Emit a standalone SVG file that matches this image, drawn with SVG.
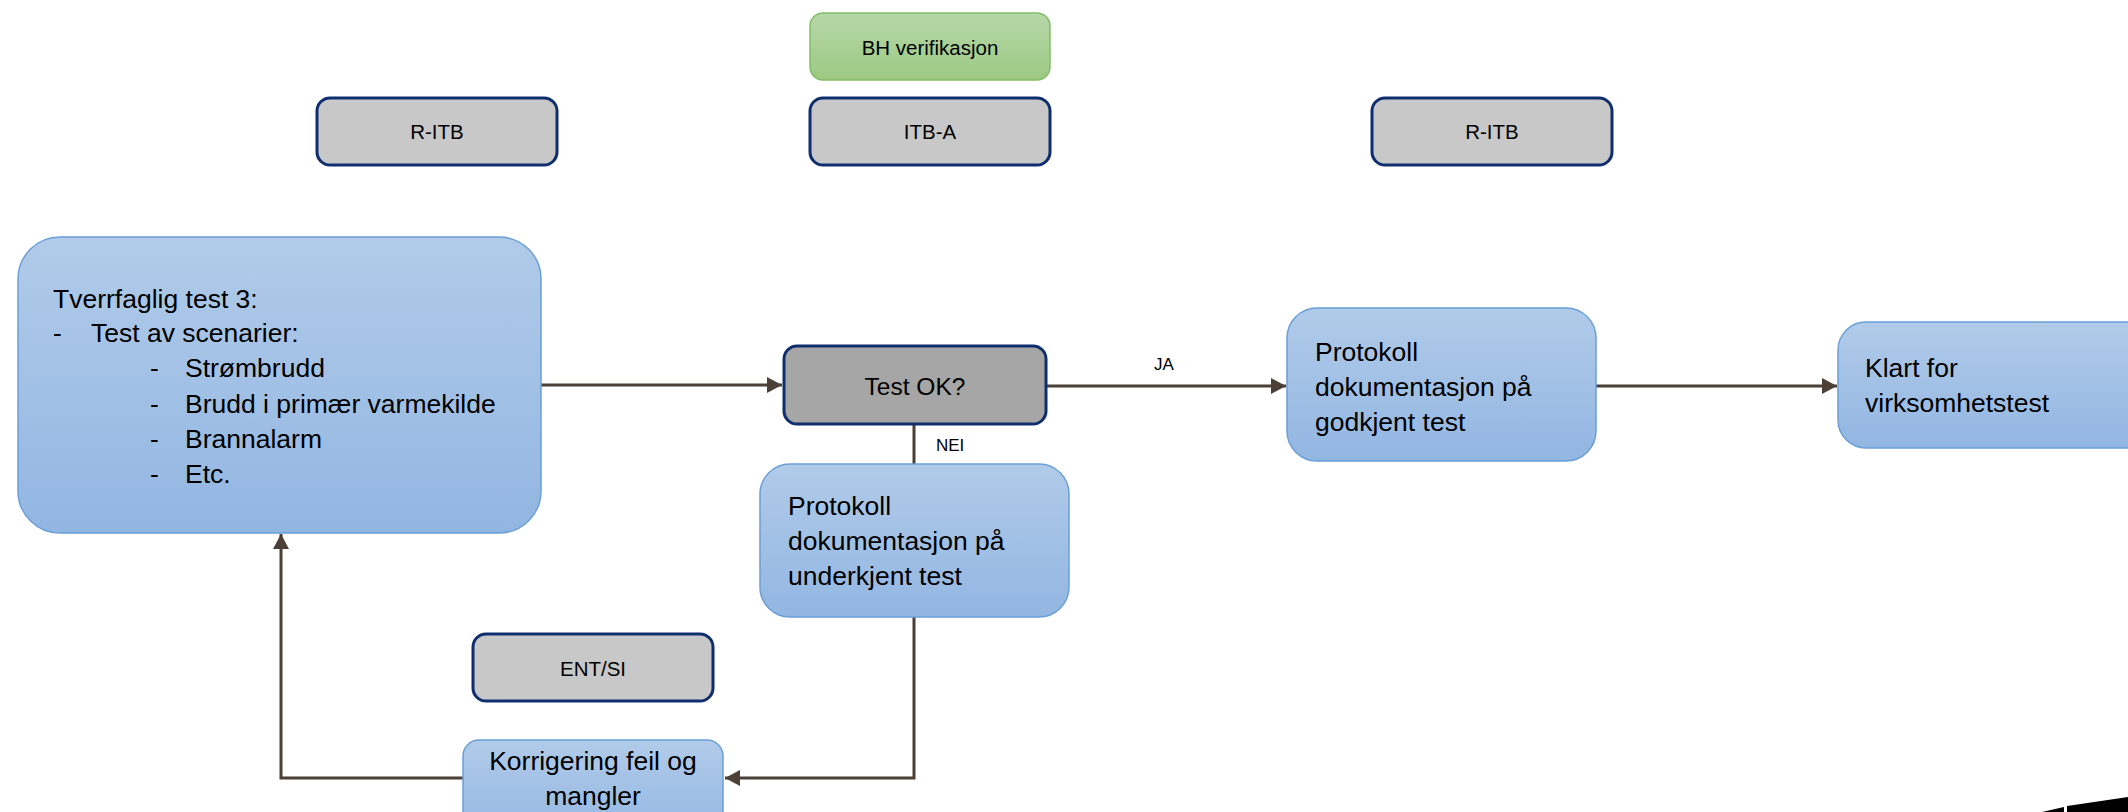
<svg xmlns="http://www.w3.org/2000/svg" width="2128" height="812" viewBox="0 0 2128 812">
<style>
text{font-family:"Liberation Sans",Arial,sans-serif;fill:#000}
.blue{fill:url(#gBlue);stroke:#6a9fd8;stroke-width:1.5}
.green{fill:url(#gGreen);stroke:#84bd66;stroke-width:1.5}
.gray{fill:#c8c8c8;stroke:#0f2e6e;stroke-width:3}
.dark{fill:#a6a6a6;stroke:#0f2e6e;stroke-width:3}
.t20{font-size:20.5px}
.t26{font-size:26.5px}
.t24{font-size:24.5px}
.t17{font-size:17px}
.conn{fill:none;stroke:#4b3f36;stroke-width:3}
</style>
<defs>
<linearGradient id="gBlue" x1="0" y1="0" x2="0" y2="1">
<stop offset="0" stop-color="#b1cbe9"/>
<stop offset="1" stop-color="#92b6e2"/>
</linearGradient>
<linearGradient id="gGreen" x1="0" y1="0" x2="0" y2="1">
<stop offset="0" stop-color="#b6d7a9"/>
<stop offset="1" stop-color="#9cc982"/>
</linearGradient>
<marker id="arr" markerUnits="userSpaceOnUse" markerWidth="18" markerHeight="18" refX="15" refY="8" orient="auto">
<path d="M0,0 L15,8 L0,16 z" fill="#4b3f36"/>
</marker>
</defs>
<rect width="2128" height="812" fill="#fff"/>

<g id="connectors">
<path class="conn" d="M541,385 H782" marker-end="url(#arr)"/>
<path class="conn" d="M1046,386 H1286" marker-end="url(#arr)"/>
<path class="conn" d="M1596,386 H1837" marker-end="url(#arr)"/>
<path class="conn" d="M914,424 V464"/>
<path class="conn" d="M914,617 V778 H725" marker-end="url(#arr)"/>
<path class="conn" d="M463,778 H281 V534" marker-end="url(#arr)"/>
<text class="t17" x="1154" y="370">JA</text>
<text class="t17" x="936" y="451">NEI</text>
</g>

<g id="bh-verifikasjon">
<rect class="green" x="810" y="13" width="240" height="67" rx="13"/>
<text class="t20" x="930" y="55" text-anchor="middle">BH verifikasjon</text>
</g>
<g id="r-itb-1">
<rect class="gray" x="317" y="98" width="240" height="67" rx="13"/>
<text class="t20" x="437" y="139" text-anchor="middle">R-ITB</text>
</g>
<g id="itb-a">
<rect class="gray" x="810" y="98" width="240" height="67" rx="13"/>
<text class="t20" x="930" y="139" text-anchor="middle">ITB-A</text>
</g>
<g id="r-itb-2">
<rect class="gray" x="1372" y="98" width="240" height="67" rx="13"/>
<text class="t20" x="1492" y="139" text-anchor="middle">R-ITB</text>
</g>

<g id="tverrfaglig">
<rect class="blue" x="18" y="237" width="523" height="296" rx="42"/>
<text class="t26" x="53" y="308">Tverrfaglig test 3:</text>
<text class="t26" x="53" y="342">-</text>
<text class="t26" x="91" y="342">Test av scenarier:</text>
<text class="t26" x="150" y="377">-</text>
<text class="t26" x="185" y="377">Strømbrudd</text>
<text class="t26" x="150" y="413">-</text>
<text class="t26" x="185" y="413">Brudd i primær varmekilde</text>
<text class="t26" x="150" y="448">-</text>
<text class="t26" x="185" y="448">Brannalarm</text>
<text class="t26" x="150" y="483">-</text>
<text class="t26" x="185" y="483">Etc.</text>
</g>

<g id="test-ok">
<rect class="dark" x="784" y="346" width="262" height="78" rx="13"/>
<text class="t24" x="915" y="395" text-anchor="middle">Test OK?</text>
</g>

<g id="protokoll-godkjent">
<rect class="blue" x="1287" y="308" width="309" height="153" rx="30"/>
<text class="t26" x="1315" y="361">Protokoll</text>
<text class="t26" x="1315" y="396">dokumentasjon på</text>
<text class="t26" x="1315" y="431">godkjent test</text>
</g>

<g id="klart">
<rect class="blue" x="1838" y="322" width="320" height="126" rx="28"/>
<text class="t26" x="1865" y="377">Klart for</text>
<text class="t26" x="1865" y="412">virksomhetstest</text>
</g>

<g id="protokoll-underkjent">
<rect class="blue" x="760" y="464" width="309" height="153" rx="30"/>
<text class="t26" x="788" y="515">Protokoll</text>
<text class="t26" x="788" y="550">dokumentasjon på</text>
<text class="t26" x="788" y="585">underkjent test</text>
</g>

<g id="ent-si">
<rect class="gray" x="473" y="634" width="240" height="67" rx="13"/>
<text class="t20" x="593" y="676" text-anchor="middle">ENT/SI</text>
</g>

<g id="korrigering">
<rect class="blue" x="463" y="740" width="260" height="100" rx="16"/>
<text class="t26" x="593" y="770" text-anchor="middle">Korrigering feil og</text>
<text class="t26" x="593" y="805" text-anchor="middle">mangler</text>
</g>

<polygon points="2042,812 2064,807 2064,812" fill="#000"/>
<polygon points="2067,812 2067,806 2128,797 2128,812" fill="#000"/>
</svg>
